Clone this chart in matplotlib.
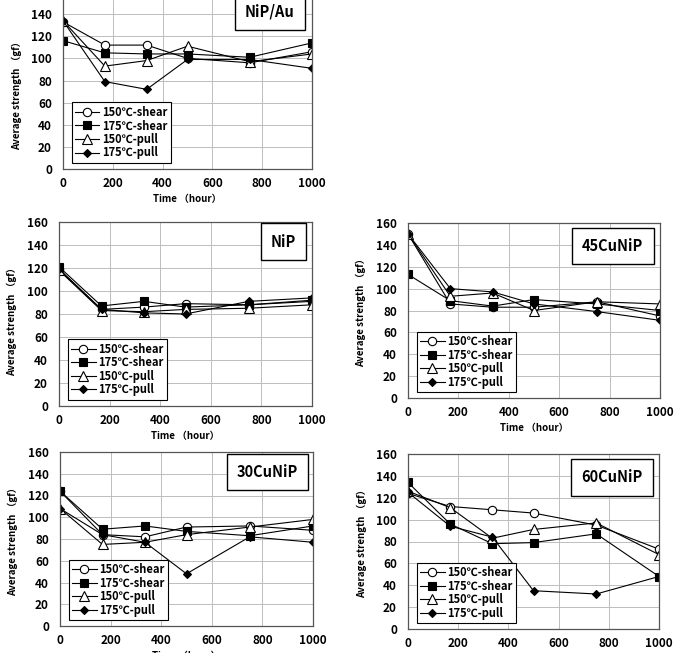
import matplotlib
matplotlib.use("Agg")
import matplotlib.pyplot as plt

plt.rcParams['font.family'] = ['Noto Sans CJK JP', 'DejaVu Sans']

# time axis (hour)
hours = [0, 168, 336, 500, 750, 1000]
series_names = ['150℃-shear', '175℃-shear', '150℃-pull', '175℃-pull']

# NiP/Au
nipau_150_shear = [133, 112, 112, 100, 96, 106]
nipau_175_shear = [116, 105, 104, 104, 101, 114]
nipau_150_pull = [134, 93, 98, 111, 97, 104]
nipau_175_pull = [134, 79, 72, 99, 99, 91]

# NiP
nip_150_shear = [119, 84, 86, 89, 88, 91]
nip_175_shear = [121, 87, 91, 86, 88, 92]
nip_150_pull = [118, 83, 82, 84, 85, 88]
nip_175_pull = [119, 84, 81, 80, 91, 94]

# 45CuNiP
cu45_150_shear = [150, 86, 83, 83, 88, 75]
cu45_175_shear = [113, 89, 84, 90, 86, 80]
cu45_150_pull = [150, 93, 96, 80, 88, 86]
cu45_175_pull = [150, 100, 97, 86, 79, 71]

# 30CuNiP
cu30_150_shear = [124, 84, 82, 91, 92, 88]
cu30_175_shear = [124, 89, 92, 87, 83, 92]
cu30_150_pull = [108, 75, 77, 84, 91, 98]
cu30_175_pull = [108, 84, 77, 48, 82, 77]

# 60CuNiP
cu60_150_shear = [124, 112, 109, 106, 95, 73]
cu60_175_shear = [134, 96, 78, 79, 87, 48]
cu60_150_pull = [126, 111, 83, 91, 97, 68]
cu60_175_pull = [125, 94, 84, 35, 32, 48]

W, H = 679, 653

def frac(left, right, bottom_px, top_px):
    return [left / W, 1 - bottom_px / H, (right - left) / W, (bottom_px - top_px) / H]

# name, data, axes rect, label position, ylabel centre
panels = [
    ('NiP/Au', [nipau_150_shear, nipau_175_shear, nipau_150_pull, nipau_175_pull],
     frac(63, 312, 169, -8), (0.83, 0.888), 0.43),
    ('NiP', [nip_150_shear, nip_175_shear, nip_150_pull, nip_175_pull],
     frac(59, 312, 406, 222), (0.887, 0.894), 0.47),
    ('45CuNiP', [cu45_150_shear, cu45_175_shear, cu45_150_pull, cu45_175_pull],
     frac(408, 660, 398, 223), (0.813, 0.869), 0.5),
    ('30CuNiP', [cu30_150_shear, cu30_175_shear, cu30_150_pull, cu30_175_pull],
     frac(60, 313, 626, 452), (0.82, 0.885), 0.5),
    ('60CuNiP', [cu60_150_shear, cu60_175_shear, cu60_150_pull, cu60_175_pull],
     frac(408, 659, 629, 454), (0.813, 0.866), 0.5),
]

styles = [
    dict(marker='o', mfc='white', mec='black', ms=6),
    dict(marker='s', mfc='black', mec='black', ms=5.5),
    dict(marker='^', mfc='white', mec='black', ms=6.5),
    dict(marker='D', mfc='black', mec='black', ms=4.5),
]

fig = plt.figure(figsize=(W / 100, H / 100), dpi=100)

for name, data, rect, lab, ylab_y in panels:
    ax = fig.add_axes(rect)
    for vals, st, lbl in zip(data, styles, series_names):
        ax.plot(hours, vals, color='black', lw=0.8, mew=0.8, label=lbl, **st)
    ax.set_xlim(0, 1000)
    ax.set_ylim(0, 160)
    ax.set_xticks(range(0, 1001, 200))
    ax.set_yticks(range(0, 161, 20))
    ax.grid(True, color='#bdbdbd', lw=0.7)
    ax.set_axisbelow(True)
    for sp in ax.spines.values():
        sp.set_color('#555555')
        sp.set_linewidth(0.9)
    ax.tick_params(length=0, labelsize=8.5, pad=6)
    for t in ax.get_xticklabels() + ax.get_yticklabels():
        t.set_fontweight('bold')
    ax.tick_params(axis='y', pad=8)
    ax.set_xlabel('Time （hour）', fontsize=7, fontweight='bold', labelpad=3)
    ax.set_ylabel('Average strength （gf）', fontsize=7, fontweight='bold', labelpad=4)
    ax.yaxis.set_label_coords(-0.165, ylab_y)
    leg = ax.legend(loc='lower left', bbox_to_anchor=(0.035, 0.035), borderaxespad=0,
                    fontsize=8, numpoints=1, handlelength=2.2, handletextpad=0.25,
                    labelspacing=0.05, borderpad=0.3, fancybox=False, framealpha=1,
                    edgecolor='black')
    leg.get_frame().set_linewidth(0.8)
    for t in leg.get_texts():
        t.set_fontweight('bold')
    ax.text(lab[0], lab[1], name, transform=ax.transAxes, ha='center', va='center',
            fontsize=10.5, fontweight='bold',
            bbox=dict(boxstyle='square,pad=0.7', fc='white', ec='black', lw=1.0))

fig.savefig('out.png', dpi=100)
